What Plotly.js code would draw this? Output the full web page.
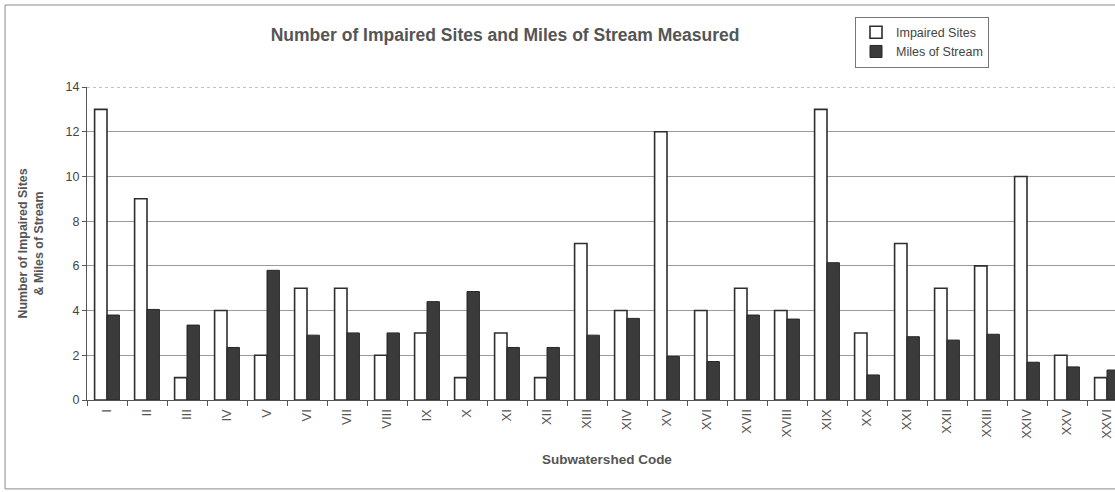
<!DOCTYPE html>
<html>
<head>
<meta charset="utf-8">
<script src="https://cdn.plot.ly/plotly-3.0.1.min.js"></script>
<style>
  html, body { margin: 0; padding: 0; overflow: hidden; background: #fff; }
  #chart { width: 1150px; height: 492px; }
</style>
</head>
<body>
<div id="chart"></div>
<script>
// Subwatershed codes (Roman numerals)
const codes = ['I','II','III','IV','V','VI','VII','VIII','IX','X','XI','XII','XIII',
               'XIV','XV','XVI','XVII','XVIII','XIX','XX','XXI','XXII','XXIII','XXIV','XXV','XXVI'];

// Number of impaired sites per subwatershed
const impairedSites = [13, 9, 1, 4, 2, 5, 5, 2, 3, 1, 3, 1, 7,
                       4, 12, 4, 5, 4, 13, 3, 7, 5, 6, 10, 2, 1];

// Miles of stream measured per subwatershed
const milesOfStream = [3.8, 4.05, 3.35, 2.35, 5.8, 2.9, 3.0, 3.0, 4.4, 4.85, 2.35, 2.35, 2.9,
                       3.65, 1.95, 1.72, 3.8, 3.62, 6.14, 1.12, 2.83, 2.68, 2.94, 1.69, 1.48, 1.34];

const yTicks = [0, 2, 4, 6, 8, 10, 12, 14];

const textFont = 'Liberation Sans, Arial, sans-serif';

const traces = [
  {
    type: 'bar',
    name: 'Impaired Sites',
    x: codes,
    y: impairedSites,
    marker: { color: '#ffffff', line: { color: '#2e2e2e', width: 1.6 } },
    hoverinfo: 'x+y'
  },
  {
    type: 'bar',
    name: 'Miles of Stream',
    x: codes,
    y: milesOfStream,
    marker: { color: '#3b3b3b', line: { color: '#262626', width: 1 } },
    hoverinfo: 'x+y'
  }
];

const layout = {
  width: 1150,
  height: 492,
  margin: { l: 87, r: 23, t: 87, b: 92 },
  paper_bgcolor: '#ffffff',
  plot_bgcolor: '#ffffff',
  barmode: 'group',
  bargap: 0.38,
  bargroupgap: 0,
  font: { family: textFont, color: '#444444', size: 12 },
  title: {
    text: '<b>Number of Impaired Sites and Miles of Stream Measured</b>',
    font: { family: textFont, size: 17.5, color: '#555555' },
    xref: 'paper', x: 0.402, xanchor: 'center',
    yref: 'container', y: 0.929, yanchor: 'middle'
  },
  xaxis: {
    type: 'category',
    tickangle: -90,
    ticks: 'outside',
    tickson: 'boundaries',
    ticklen: 5,
    tickcolor: '#555555',
    ticklabelstandoff: 3,
    tickfont: { family: textFont, size: 13, color: '#555555' },
    showline: true,
    linecolor: '#555555',
    linewidth: 1,
    showgrid: false,
    title: {
      text: '<b>Subwatershed Code</b>',
      font: { family: textFont, size: 13.5, color: '#555555' },
      standoff: 16
    },
    automargin: false
  },
  yaxis: {
    range: [0, 14],
    tickvals: yTicks,
    ticktext: yTicks.map(String),
    ticks: 'outside',
    ticklen: 4,
    tickcolor: '#555555',
    tickfont: { family: textFont, size: 12.5, color: '#444444' },
    showline: true,
    linecolor: '#555555',
    linewidth: 1,
    showgrid: true,
    gridcolor: '#9a9a9a',
    gridwidth: 1,
    zeroline: false,
    title: {
      text: '<b>Number of Impaired Sites<br>& Miles of Stream</b>',
      font: { family: textFont, size: 12.4, color: '#555555' },
      standoff: 19
    },
    automargin: false
  },
  legend: {
    x: (855 - 87) / 1040, xanchor: 'left',
    y: 1.225, yanchor: 'top',
    bgcolor: '#ffffff',
    bordercolor: '#777777',
    borderwidth: 1,
    font: { family: textFont, size: 12.5, color: '#444444' },
    tracegroupgap: 0,
    itemwidth: 30
  },
  shapes: [
    // dotted top edge of the plot area
    { type: 'line', xref: 'paper', yref: 'y', x0: 0, x1: 1, y0: 14, y1: 14,
      line: { color: '#888888', width: 1, dash: 'dot' } },
    // outer chart frame
    { type: 'rect', xref: 'paper', yref: 'paper',
      x0: -0.0788, x1: 1.02, y0: -0.284, y1: 1.262,
      line: { color: '#8a8a8a', width: 1 }, fillcolor: 'rgba(0,0,0,0)' }
  ],
  showlegend: true
};

Plotly.newPlot('chart', traces, layout, { displayModeBar: false, staticPlot: true });
</script>
</body>
</html>
